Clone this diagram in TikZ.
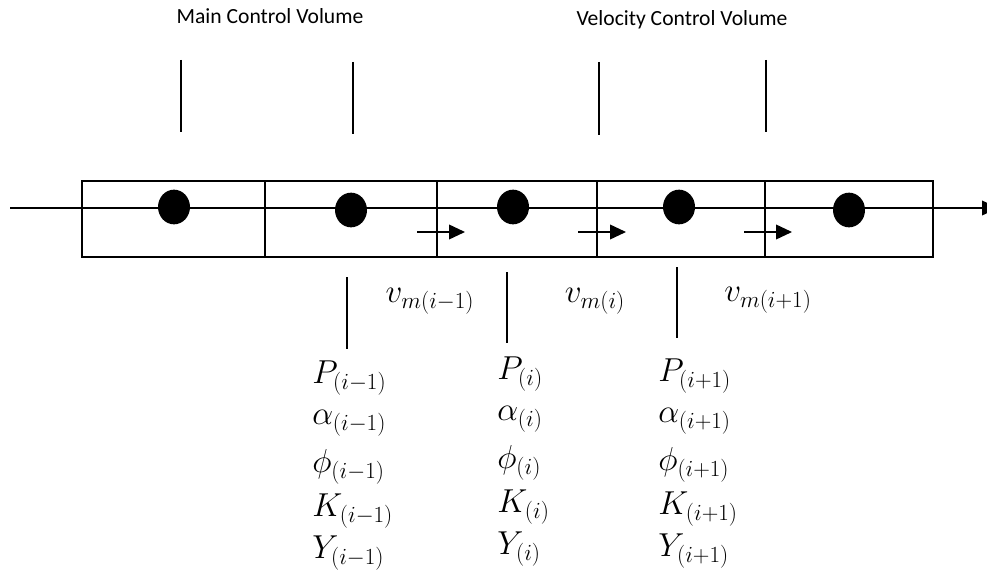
\documentclass[tikz,border=0pt]{standalone}
\usepackage{amsmath}
\usepackage{fontspec}
\setmainfont{Carlito}
\usetikzlibrary{arrows.meta,shapes.geometric}

\tikzset{
  cell/.style={line width=1pt},
  axisline/.style={line width=1.25pt},
  tick/.style={line width=1.1pt},
  dot/.style={ellipse,fill=black,inner sep=0pt,minimum width=24pt,minimum height=26pt},
  cvlabel/.style={font=\fontsize{16.2}{19}\selectfont},
  varlabel/.style={font=\fontsize{23.5}{28}\selectfont,inner sep=0pt}
}

\begin{document}
\begin{tikzpicture}[x=0.75pt,y=-0.75pt,>={Triangle[length=12pt,width=11pt]}]
\useasboundingbox (0,0) rectangle (987,574);
\clip (0,0) rectangle (987,574);
% cells
\draw[cell] (82,181) rectangle (933,257);
\foreach \x in {265,437,597,765}
  \draw[cell] (\x,181)--(\x,257);
% axis
\draw[axisline,->] (10,208)--(998,208);
% grid points
\foreach \n/\x/\y in {1/174/207,2/351/210,3/513/207,4/679/207,5/849/210}
  \node[dot] (pt\n) at (\x,\y) {};
% velocity arrows
\foreach \x in {417,578,744}
  \draw[axisline,->] (\x,232)--(\x+48,232);
% control volume marks
\draw[tick] (181,60)--(181,132)
(353,62)--(353,134)
(599,62)--(599,135)
(766,60)--(766,132);
\draw[tick] (347,277)--(347,349)
(507,272)--(507,343)
(677,267)--(677,338);
% labels
\node[cvlabel] (mainCV) at (270,16) {Main Control Volume};
\node[cvlabel] (velCV) at (682,20) {Velocity Control Volume};
\node[varlabel] (vm1) at (430,301) {$v_{m(i-1)}$};
\node[varlabel] (vm2) at (595,301) {$v_{m(i)}$};
\node[varlabel] (vm3) at (768,300) {$v_{m(i+1)}$};
\foreach \s/\c/\x/\y in {{i-1}/a/312/378,{i}/b/497/374,{i+1}/c/658/376}{
  \node[varlabel,anchor=west] (P\c) at (\x,\y) {$P_{(\s)}$};
  \node[varlabel,anchor=west] (al\c) at (\x,\y+45) {$\alpha_{(\s)}$};
  \node[varlabel,anchor=west] (ph\c) at (\x,\y+89) {$\phi_{(\s)}$};
  \node[varlabel,anchor=west] (K\c) at (\x,\y+133) {$K_{(\s)}$};
  \node[varlabel,anchor=west] (Y\c) at (\x,\y+175) {$Y_{(\s)}$};
}
\end{tikzpicture}
\end{document}
